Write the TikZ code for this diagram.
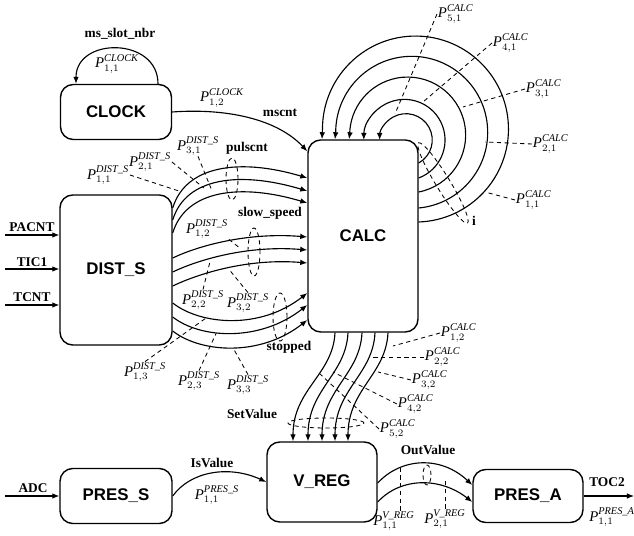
\documentclass[tikz,border=0pt]{standalone}
\usepackage{amsmath,amssymb}
\usepackage{fontspec}
\setmainfont{Liberation Serif}
\setsansfont{Liberation Sans}
\usetikzlibrary{arrows.meta,calc}
\newcommand{\pl}[2]{\textit{P}$^{\textit{#1}}_{#2}$}

\begin{document}
\begin{tikzpicture}[x=0.025cm,y=0.025cm,
  every node/.style={font=\fontsize{10.5}{12}\selectfont,inner sep=0.5pt},
  block/.style={draw,line width=1pt,rounded corners=0.32cm,font=\sffamily\bfseries\fontsize{12}{14}\selectfont},
  sig/.style={line width=0.8pt,-{Latex[length=5pt,width=4pt]}},
  sname/.style={font=\bfseries\fontsize{9.5}{11}\selectfont},
  pcut/.style={line width=0.6pt,dash pattern=on 3pt off 2.5pt}]
\useasboundingbox (0,0) rectangle (634,-536);

\node[block,minimum width=2.775cm,minimum height=1.375cm] (clock) at (116,-112) {CLOCK};
\node[block,minimum width=2.8cm,minimum height=3.75cm] (dist) at (116,-270) {DIST\_S};
\node[block,minimum width=2.75cm,minimum height=4.8cm] (calc) at (363,-236) {CALC};
\node[block,minimum width=2.75cm,minimum height=2cm] (vreg) at (322,-482) {V\_REG};
\node[block,minimum width=2.8cm,minimum height=1.375cm] (press) at (116,-496) {PRES\_S};
\node[block,minimum width=2.75cm,minimum height=1.325cm] (presa) at (528,-496) {PRES\_A};

\draw[sig] ($(clock.north)+(42,0)$) .. controls +(0,47) and +(0,47) .. ($(clock.north)+(-40,0)$);
\node[sname] (slot) at (120,-34) {ms\_slot\_nbr};
\node (pc11) at (117,-64) {\pl{CLOCK}{1,1}};
\draw[sig] (clock.east) .. controls +(55,4) and +(-30,32) .. ($(calc.north west)+(0,-12)$);
\node (pc12) at (222,-98) {\pl{CLOCK}{1,2}};
\node[sname] (mscnt) at (280,-113) {mscnt};

\coordinate (pacnt) at (5,-235);
\coordinate (tic) at (5,-269);
\coordinate (tcnt) at (5,-305);
\draw[sig] (pacnt) -- (pacnt -| dist.west);
\draw[sig] (tic) -- (tic -| dist.west);
\draw[sig] (tcnt) -- (tcnt -| dist.west);
\node[sname] (lpacnt) at (32,-227) {PACNT};
\node[sname] (ltic) at (32,-262) {TIC1};
\node[sname] (ltcnt) at (32,-297) {TCNT};

\foreach \a/\b in {62/58, 50/45, 37/33}
  \draw[sig] ($(dist.east)+(0,\a)$) .. controls +(13,43) and +(-67,20) .. ($(calc.west)+(0,\b)$);
\foreach \a/\b in {12/-1, -2/-14, -16/-27}
  \draw[sig] ($(dist.east)+(0,\a)$) .. controls +(25,12) and +(-60,5) .. ($(calc.west)+(0,\b)$);
\foreach \a/\b in {-33/-57, -47/-69, -61/-84}
  \draw[sig] ($(dist.east)+(0,\a)$) .. controls +(28,-22) and +(-47,-37) .. ($(calc.west)+(0,\b)$);

\node (pd11) at (108,-175) {\pl{DIST\_S}{1,1}};
\draw[pcut] (pd11.east) -- ++(49,-16);
\node (pd21) at (150,-162) {\pl{DIST\_S}{2,1}};
\draw[pcut] (pd21.east) -- ++(32,-26);
\node (pd31) at (198,-146) {\pl{DIST\_S}{3,1}};
\draw[pcut] (pd31.south) -- ++(13,-32);
\node (pd12) at (207,-229) {\pl{DIST\_S}{1,2}};
\draw[pcut] (pd12.south east) -- ++(10,-8);
\node (pd22) at (203,-300) {\pl{DIST\_S}{2,2}};
\draw[pcut] (pd22.north) -- ++(7,28);
\node (pd32) at (248,-303) {\pl{DIST\_S}{3,2}};
\draw[pcut] (pd32.north) -- ++(-18,22);
\node (pd13) at (145,-372) {\pl{DIST\_S}{1,3}};
\draw[pcut] (pd13.north) -- ++(63,45);
\node (pd23) at (199,-381) {\pl{DIST\_S}{2,3}};
\draw[pcut] (pd23.north) -- ++(17,37);
\node (pd33) at (248,-385) {\pl{DIST\_S}{3,3}};
\draw[pcut] (pd33.north) -- ++(-14,25);

\draw[pcut] (232,-179) ellipse[x radius=6,y radius=21];
\draw[pcut] (254,-252) ellipse[x radius=6,y radius=24];
\draw[pcut] (280,-317) ellipse[x radius=7,y radius=24];
\node[sname] (pulscnt) at (247,-148) {pulscnt};
\node[sname] (slow) at (270,-213) {slow\_speed};
\node[sname] (stopped) at (289,-347) {stopped};

\foreach \r/\a/\dy in {26.3/61/73, 40.6/69.4/58}
  \draw[sig] ($(calc.east)+(0,\dy)$) arc[start angle=-\a, end angle=180, radius=\r];
\foreach \r/\a/\dy/\dx in {58/79/44/-14, 76/84.7/28/-28, 93/88/14/-41}
  \draw[sig] ($(calc.east)+(0,\dy)$) arc[start angle=-\a, end angle=180, radius=\r] -- ($(calc.north)+(\dx,0)$);

\node[anchor=west] (pa51) at (437,-14) {\pl{CALC}{5,1}};
\draw[pcut] (pa51.west) -- ++(-42,-100);
\node[anchor=west] (pa41) at (492,-43) {\pl{CALC}{4,1}};
\draw[pcut] (pa41.west) -- ++(-69,-59);
\node[anchor=west] (pa31) at (525,-89) {\pl{CALC}{3,1}};
\draw[pcut] (pa31.west) -- ++(-62,-18);
\node[anchor=west] (pa21) at (532,-144) {\pl{CALC}{2,1}};
\draw[pcut] (pa21.west) -- ++(-47,2);
\node[anchor=west] (pa11) at (515,-200) {\pl{CALC}{1,1}};
\draw[pcut] (pa11.west) -- ++(-30,8);
\draw[pcut,rotate around={-58.6:(443,-183)}] (443,-183) ellipse[x radius=47,y radius=7];
\node[sname] (ilab) at (474,-221) {i};

\foreach \s/\e in {-28/-29, -15/-14, -1/0, 12/13, 25/26}
  \draw[sig] ($(calc.south)+(\s,0)$) .. controls +(-2,-42) and +(0,52) .. ($(vreg.north)+(\e,0)$);
\draw[pcut] (326,-423) ellipse[x radius=38,y radius=5];
\node[sname] (setv) at (252,-414) {SetValue};

\node[anchor=west] (pa12) at (440,-333) {\pl{CALC}{1,2}};
\draw[pcut] (pa12.west) -- ++(-47,-13);
\node[anchor=west] (pa22) at (424,-357) {\pl{CALC}{2,2}};
\draw[pcut] (pa22.west) -- ++(-52,0);
\node[anchor=west] (pa32) at (411,-380) {\pl{CALC}{3,2}};
\draw[pcut] (pa32.west) -- ++(-33,8);
\node[anchor=west] (pa42) at (397,-404) {\pl{CALC}{4,2}};
\draw[pcut] (pa42.west) -- ++(-64,32);
\node[anchor=west] (pa52) at (379,-429) {\pl{CALC}{5,2}};
\draw[pcut] (pa52.west) -- ++(-60,56);

\draw[sig] ($(vreg.east)+(0,-1)$) .. controls +(23,25) and +(-32,30) .. ($(presa.west)+(0,11)$);
\draw[sig] ($(vreg.east)+(0,-20)$) .. controls +(23,25) and +(-32,25) .. ($(presa.west)+(0,-6)$);
\draw[pcut] (427,-475) ellipse[x radius=4,y radius=10];
\node[sname] (outv) at (428,-450) {OutValue};
\node (pv11) at (394,-521) {\pl{V\_REG}{1,1}};
\draw[pcut] ($(pv11.north)+(6,0)$) -- ++(0,43);
\node (pv21) at (445,-519) {\pl{V\_REG}{2,1}};
\draw[pcut] (pv21.north) -- ++(0,28);

\draw[sig] (press.east) .. controls +(18,25) and +(-37,17) .. (vreg.west);
\node[sname] (isv) at (212,-463) {IsValue};
\node (pps) at (217,-495) {\pl{PRES\_S}{1,1}};

\coordinate (adc) at (5,-496);
\coordinate (toc) at (634,-496);
\draw[sig] (adc) -- (press.west);
\draw[sig] (presa.east) -- (toc);
\node[sname] (adcl) at (33,-488) {ADC};
\node[sname] (tocl) at (607,-482) {TOC2};
\node (ppa) at (612,-517) {\pl{PRES\_A}{1,1}};
\end{tikzpicture}
\end{document}
